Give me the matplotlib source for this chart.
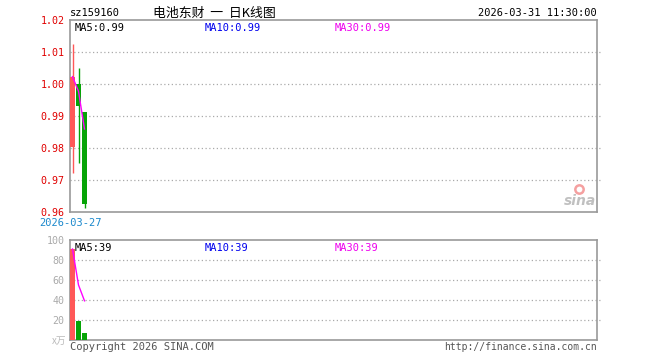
import matplotlib
matplotlib.use("Agg")
import matplotlib.pyplot as plt
import numpy as np

# daily k-line values
opens = [0.9804, 0.9999, 0.9913]
closes = [1.0023, 0.9931, 0.9624]
highs = [1.0124, 1.0050, 0.9913]
lows = [0.9721, 0.9752, 0.9611]
volumes = [91, 19, 7.5]          # x万
price_ticks = [0.96, 0.97, 0.98, 0.99, 1.00, 1.01, 1.02]
vol_ticks = [0, 20, 40, 60, 80, 100]
first_date = "2026-03-27"

RED = "#ff5858"
GREEN = "#06a406"
GRID = "#aaaaaa"
EDGE = "#999999"
MONO = "DejaVu Sans Mono"

W, H = 660, 360
fig = plt.figure(figsize=(6.6, 3.6), dpi=100)

def px_axes(x0, y0, x1, y1):
    return fig.add_axes([x0 / W, 1 - y1 / H, (x1 - x0) / W, (y1 - y0) / H])

ax = px_axes(70, 20, 597, 212)
axv = px_axes(70, 240, 597, 340)

n = len(closes)
idx = np.arange(n)
xlim = (-2.5 / 6, -2.5 / 6 + 527 / 6)
bw = 5 / 6

def running_ma(vals, k):
    out = []
    for i in range(len(vals)):
        seg = vals[max(0, i - k + 1):i + 1]
        out.append(sum(seg) / len(seg))
    return out

# candles (drawn over the spines like the original)
for i in idx:
    up = closes[i] >= opens[i]
    c = RED if up else GREEN
    ax.vlines(i, lows[i], highs[i], color=c, lw=1, zorder=3)
    lo, hi = min(opens[i], closes[i]), max(opens[i], closes[i])
    ax.bar(i, hi - lo, bottom=lo, width=bw, color=c, linewidth=0, zorder=3)
ax.plot(idx, running_ma(closes, 5), color="#ff00ff", lw=1, zorder=4)

ax.set_xlim(*xlim)
ax.set_ylim(0.96, 1.02)
for t in price_ticks[1:-1]:
    ax.axhline(t, color=GRID, lw=0.9, ls=(0, (1, 2)), clip_on=False, xmax=1.005, zorder=1)
ax.set_yticks(price_ticks)
ax.set_yticklabels(["%.2f" % t for t in price_ticks])
ax.tick_params(axis="y", length=0, pad=4, labelcolor="#e00000", labelsize=7.2)
for lbl in ax.get_yticklabels():
    lbl.set_fontfamily(MONO)
ax.set_xticks([])
for s in ax.spines.values():
    s.set_color(EDGE)
    s.set_linewidth(1.2)

ma_p = "%.2f" % running_ma(closes, 5)[-1]
ax.text(5 / 527, 0.985, "MA5:" + ma_p, transform=ax.transAxes, va="top", fontsize=7.5, family=MONO, color="black")
ax.text(135 / 527, 0.985, "MA10:" + ma_p, transform=ax.transAxes, va="top", fontsize=7.5, family=MONO, color="#0000ee")
ax.text(265 / 527, 0.985, "MA30:" + ma_p, transform=ax.transAxes, va="top", fontsize=7.5, family=MONO, color="#ee00ee")

# sina logo, rough
ax.text(0.998, 0.02, "sina", transform=ax.transAxes, ha="right", va="bottom", fontsize=10,
        style="italic", weight="bold", color="#c0c0c0", family="DejaVu Sans")
ax.plot([0.966], [0.12], "o", transform=ax.transAxes, ms=6, mfc="none", mec="#f5a0a0", mew=1.8)

# volume
vcols = [RED if closes[i] >= opens[i] else GREEN for i in idx]
axv.bar(idx, volumes, width=bw, color=vcols, linewidth=0, zorder=3)
axv.plot(idx, running_ma(volumes, 5), color="#ff00ff", lw=1, zorder=4)
axv.set_xlim(*xlim)
axv.set_ylim(0, 100)
for t in vol_ticks[1:-1]:
    axv.axhline(t, color=GRID, lw=0.9, ls=(0, (1, 2)), clip_on=False, xmax=1.005, zorder=1)
axv.set_yticks(vol_ticks[1:])
axv.set_yticklabels([str(t) for t in vol_ticks[1:]])
axv.tick_params(axis="y", length=0, pad=4, labelcolor="#aaaaaa", labelsize=7.2)
for lbl in axv.get_yticklabels():
    lbl.set_fontfamily(MONO)
axv.set_xticks([])
for s in axv.spines.values():
    s.set_color(EDGE)
    s.set_linewidth(1.2)

ma_v = "%d" % round(running_ma(volumes, 5)[-1])
axv.text(5 / 527, 0.97, "MA5:" + ma_v, transform=axv.transAxes, va="top", fontsize=7.5, family=MONO, color="black")
axv.text(135 / 527, 0.97, "MA10:" + ma_v, transform=axv.transAxes, va="top", fontsize=7.5, family=MONO, color="#0000ee")
axv.text(265 / 527, 0.97, "MA30:" + ma_v, transform=axv.transAxes, va="top", fontsize=7.5, family=MONO, color="#ee00ee")

# header / footer text
fig.text(70 / W, 1 - 13 / H, "sz159160", fontsize=7.5, family=MONO, va="center", ha="left")
fig.text(214 / W, 1 - 13 / H, "电池东财  一  日K线图", fontsize=9.3, family=["Noto Sans CJK SC", "DejaVu Sans"],
         va="center", ha="center")
fig.text(597 / W, 1 - 13 / H, "2026-03-31 11:30:00", fontsize=7.5, family=MONO, va="center", ha="right")
fig.text(70 / W, 1 - 223 / H, first_date, fontsize=7.5, family=MONO, va="center", ha="center", color="#1a88cc")
fig.text(66 / W, 1 - 341 / H, "x万", fontsize=7, family=["Noto Sans CJK SC", "DejaVu Sans"], va="center",
         ha="right", color="#bbbbbb")
fig.text(70 / W, 1 - 347 / H, "Copyright 2026 SINA.COM", fontsize=7.5, family=MONO, va="center", ha="left",
         color="#555555")
fig.text(597 / W, 1 - 347 / H, "http://finance.sina.com.cn", fontsize=7, family=MONO, va="center", ha="right",
         color="#555555")

fig.savefig("out.png", dpi=100)
